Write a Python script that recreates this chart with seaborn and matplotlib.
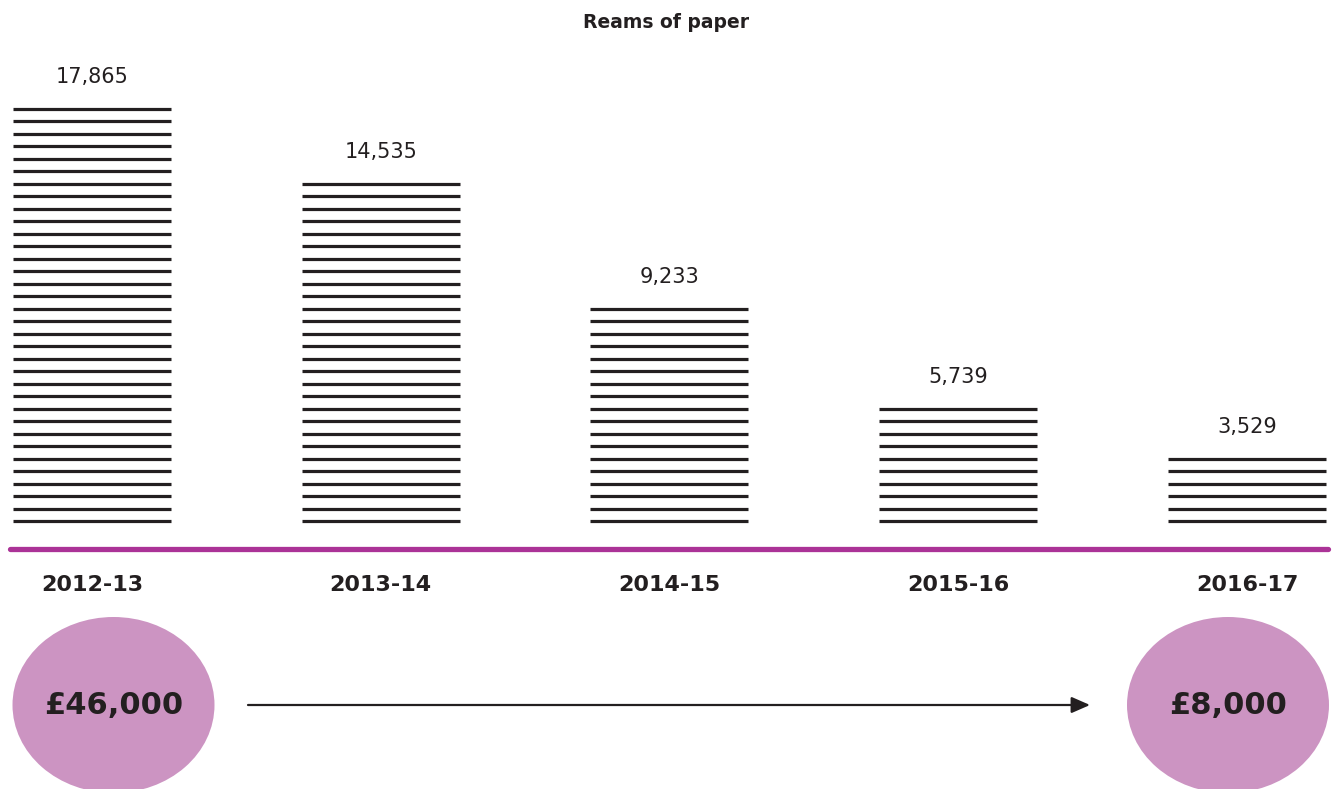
import matplotlib
matplotlib.use("Agg")
import matplotlib.pyplot as plt
from matplotlib.patches import Ellipse
import seaborn as sns
import pandas as pd

# data
years = ["2012-13", "2013-14", "2014-15", "2015-16", "2016-17"]
reams = [17865, 14535, 9233, 5739, 3529]
stack_lines = [34, 28, 18, 10, 6]   # number of drawn "sheets" in each stack
cost_start = "£46,000"
cost_end = "£8,000"

INK = "#231f20"
MAGENTA = "#ab3397"
PINK = "#cc94c2"

# long table: one row per sheet line
rows = []
for yr, n in zip(years, stack_lines):
    for k in range(n):
        rows.append({"year": yr, "level": k})
sheets = pd.DataFrame(rows)

sns.set_theme(style="white")
plt.rcParams["font.family"] = ["DejaVu Sans"]

W, H = 1332, 789
fig = plt.figure(figsize=(W / 100, H / 100), dpi=100)
ax = fig.add_axes([0, 0, 1, 1])

# each stack is drawn as horizontal line markers
sns.scatterplot(data=sheets, x="year", y="level", marker="_", s=13000,
                color=INK, linewidth=2.3, legend=False, ax=ax)

step_px = 288.75   # px per category
line_px = 12.5     # px per sheet line
ax.set_xlim(-92 / step_px, (W - 92) / step_px)
ax.set_ylim((521 - H) / line_px, 521 / line_px)
ax.axis("off")

for i, (v, n) in enumerate(zip(reams, stack_lines)):
    ax.text(i, n - 1 + 2.5, f"{v:,}", ha="center", va="center",
            fontsize=15, color=INK)
    ax.text(i, -5.1, years[i], ha="center", va="center",
            fontsize=16, fontweight="bold", color=INK)

# magenta base line
ax.axhline(-2.24, xmin=10 / W, xmax=1328 / W, color=MAGENTA, lw=3.8)

fig.text(666 / W, 1 - 22 / H, "Reams of paper", ha="center", va="center",
         fontsize=13.5, fontweight="bold", color=INK)

# cost bubbles and arrow
for cx, label in [(113.5, cost_start), (1228, cost_end)]:
    fig.patches.append(Ellipse((cx / W, 1 - 705 / H), 202 / W, 176 / H,
                               transform=fig.transFigure, facecolor=PINK,
                               edgecolor="none", zorder=1))
    fig.text(cx / W, 1 - 706 / H, label, ha="center", va="center",
             fontsize=22, fontweight="bold", color=INK, zorder=3)

fig.add_artist(plt.matplotlib.patches.FancyArrowPatch(
    (248 / W, 1 - 705 / H), (1090 / W, 1 - 705 / H),
    transform=fig.transFigure, arrowstyle="-|>,head_length=0.8,head_width=0.35",
    mutation_scale=14, color=INK, lw=1.6, shrinkA=0, shrinkB=0))

fig.savefig("out.png", dpi=100)
